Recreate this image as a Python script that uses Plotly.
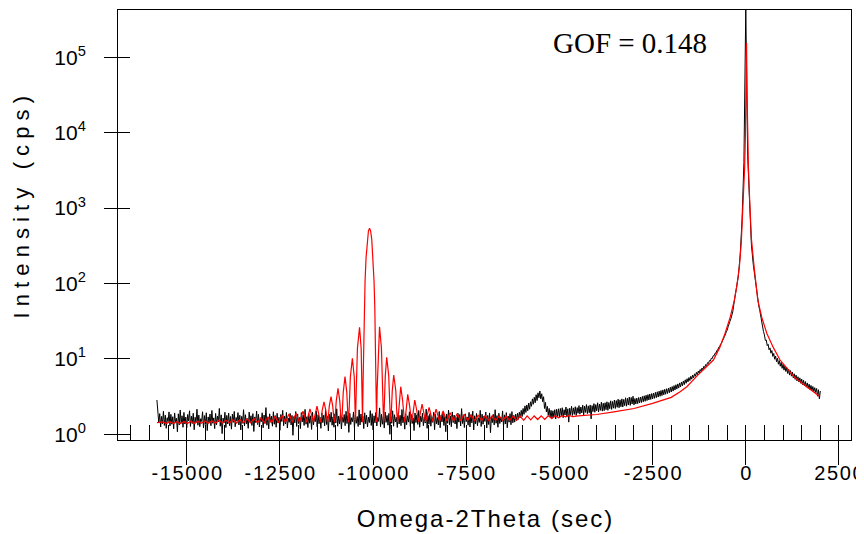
import plotly.graph_objects as go

# ---------------- measured scan (black) -----------------
# each segment: start angle (sec), step (sec), intensities (cps)
seg_a_start, seg_a_step = -15800, 25   # flat background
seg_a = [
    2.85, 1.95, 1.42, 1.88, 1.25, 1.73, 1.38, 2.02, 1.31, 1.79, 1.20, 1.66, 1.47, 1.98, 1.29, 1.84,
    1.36, 1.71, 1.18, 1.92, 1.44, 1.63, 1.08, 1.87, 1.33, 2.10, 1.41, 1.76, 1.24, 1.95, 1.37, 1.69,
    1.22, 1.83, 1.50, 2.05, 1.27, 1.74, 1.39, 1.90, 1.15, 1.68, 1.45, 2.15, 1.32, 1.80, 1.26, 1.61,
    1.48, 1.99, 1.21, 1.77, 1.35, 1.93, 1.12, 1.70, 1.43, 1.86, 1.30, 2.07, 1.40, 1.65, 1.19, 1.89,
    1.34, 1.75, 1.46, 2.20, 1.28, 1.81, 1.02, 1.64, 1.42, 1.96, 1.23, 1.78, 1.37, 1.91, 1.30, 1.72,
    1.17, 1.85, 1.44, 2.01, 1.26, 1.67, 1.49, 1.94, 1.33, 1.79, 1.14, 1.73, 1.40, 2.12, 1.29, 1.82,
    1.38, 1.62, 1.20, 1.97, 1.46, 1.76, 1.31, 1.88, 1.09, 1.70, 1.43, 2.03, 1.35, 1.84, 1.25, 1.66,
    1.47, 1.93, 1.22, 1.80, 1.39, 2.26, 1.32, 1.69, 1.18, 1.87, 1.45, 1.74, 1.28, 1.99, 1.36, 1.77,
    1.24, 1.90, 1.41, 1.68, 1.13, 1.83, 1.48, 2.08, 1.30, 1.75, 1.37, 1.95, 1.21, 1.64, 1.44, 1.89,
    1.33, 1.78, 0.97, 1.72, 1.42, 2.00, 1.27, 1.86, 1.39, 1.67, 1.19, 1.94, 1.46, 1.81, 1.31, 2.14,
    1.36, 1.71, 1.23, 1.88, 1.40, 1.76, 1.16, 1.97, 1.34, 1.65, 1.47, 2.04, 1.26, 1.82, 1.38, 1.69,
    1.20, 1.92, 1.43, 1.79, 1.29, 2.09, 1.35, 1.73, 1.11, 1.85, 1.45, 1.96, 1.32, 1.70, 1.24, 1.87,
    1.41, 2.18, 1.28, 1.75, 1.37, 1.91, 1.18, 1.68, 1.44, 1.83, 1.30, 2.02, 1.39, 1.77, 1.06, 1.90,
    1.35, 1.66, 1.47, 1.98, 1.22, 1.81, 1.40, 1.72, 1.27, 2.11, 1.33, 1.86, 1.45, 1.74, 1.19, 1.93,
    1.38, 1.80, 1.25, 1.69, 1.43, 2.06, 1.31, 1.88, 1.14, 1.76, 1.42, 1.95, 1.29, 1.67, 1.48, 2.24,
    1.26, 1.84, 1.36, 1.71, 1.21, 1.97, 1.44, 1.78, 1.32, 1.89, 1.00, 1.73, 1.40, 2.05, 1.28, 1.82,
    1.46, 1.68, 1.23, 1.94, 1.37, 1.79, 1.30, 2.13, 1.42, 1.70, 1.17, 1.87, 1.34, 1.76, 1.45, 1.99,
    1.27, 1.83, 1.39, 1.65, 1.12, 1.92, 1.43, 1.81, 1.35, 2.07, 1.24, 1.74, 1.47, 1.90, 1.30, 1.69,
    1.41, 2.16, 1.20, 1.77, 1.36, 1.88, 1.28, 1.71, 1.44, 1.96, 1.15, 1.84, 1.38, 1.67, 1.33, 2.01,
    1.22, 1.79, 1.46, 1.93, 1.31, 1.72, 1.08, 1.86, 1.40, 2.10, 1.34, 1.75, 1.26, 1.98, 1.43, 1.80,
    1.37, 1.68, 1.19, 1.91, 1.45, 1.83, 1.29, 2.19, 1.39, 1.73, 1.23, 1.87, 1.47, 1.70, 1.32, 1.95,
    1.25, 1.82, 1.42, 2.03, 1.14, 1.76, 1.38, 1.89, 1.30, 1.66, 1.44, 2.08, 1.27, 1.85, 1.36, 1.74,
    1.48, 1.97, 1.21, 1.78, 1.35, 1.92, 1.05, 1.71, 1.43, 1.84, 1.33, 2.12, 1.40, 1.77, 1.24, 1.90,
    1.39, 1.69, 1.46, 2.04, 1.28, 1.81, 1.37, 1.94, 1.22, 1.75, 1.45, 1.88, 1.34, 2.00, 1.42, 1.79,
]

seg_b_start, seg_b_step = -6200, 25    # layer bump and rising background
seg_b = [
    1.45, 1.85, 1.52, 1.90, 1.58, 1.96, 1.66, 2.08, 1.72, 2.20, 1.84, 2.38, 1.95, 2.45, 2.05, 2.60,
    2.15, 2.70, 2.35, 2.95, 2.50, 3.10, 2.62, 3.35, 2.80, 3.55, 3.05, 3.75, 2.95, 3.45, 2.70, 3.15,
    2.20, 2.65, 1.98, 2.35, 1.78, 2.20, 1.70, 2.08, 1.62, 2.05, 1.68, 2.12, 1.60, 2.15, 1.72, 2.18,
    1.70, 2.20, 1.76, 2.25, 1.66, 2.12, 1.80, 2.30, 1.74, 2.18, 1.45, 2.22, 1.82, 2.35, 1.78, 2.24,
    1.84, 2.32, 1.78, 2.26, 1.90, 2.40, 1.85, 2.30, 1.92, 2.44, 1.80, 2.36, 1.95, 2.48, 1.88, 2.38,
    1.93, 2.45, 1.60, 2.40, 2.00, 2.55, 1.96, 2.48, 2.05, 2.62, 1.98, 2.52, 2.08, 2.66, 2.03, 2.58,
    2.06, 2.62, 2.12, 2.70, 2.08, 2.64, 2.18, 2.78, 2.14, 2.72, 2.22, 2.85, 2.20, 2.80, 2.28, 2.92,
    2.25, 2.86, 2.32, 2.95, 2.30, 2.90, 2.40, 3.05, 2.36, 3.00, 2.45, 3.12, 2.42, 3.08, 2.52, 3.20,
]

seg_c_start, seg_c_step = -3000, 25    # left tail of substrate peak
seg_c = [
    2.45, 2.98, 2.52, 3.02, 2.55, 3.08, 2.60, 3.12, 2.64, 3.18, 2.70, 3.24, 2.74, 3.30, 2.80, 3.36,
    2.85, 3.42, 2.90, 3.47, 2.95, 3.52, 3.00, 3.60, 3.06, 3.66, 3.12, 3.74, 3.19, 3.81, 3.26, 3.88,
    3.33, 3.95, 3.40, 4.02, 3.48, 4.10, 3.56, 4.20, 3.64, 4.30, 3.74, 4.42, 3.86, 4.54, 3.98, 4.66,
    4.10, 4.80, 4.25, 4.94, 4.40, 5.10, 4.56, 5.28, 4.75, 5.46, 4.95, 5.66, 5.15, 5.88, 5.38, 6.10,
    5.62, 6.34, 5.88, 6.62, 6.18, 6.90, 6.48, 7.22, 6.82, 7.58, 7.20, 7.98, 7.65, 8.42, 8.15, 8.92,
    8.72, 9.50, 9.36, 10.2, 10.1, 11.0, 11.0, 11.9, 11.9, 13.0, 13.1, 14.3, 14.5, 15.8, 16.2, 17.6,
    18.2, 19.9, 20.8, 22.8, 24.0, 26.6, 28.3, 31.5, 34.0, 38.0, 42.0,
]

seg_d_start, seg_d_step = -300, 50     # substrate peak
seg_d = [62, 88, 125, 240, 700, 4000, 450000, 5000, 1000, 330, 180, 110, 72]

seg_e_start, seg_e_step = 350, 25      # right tail
seg_e = [
    50, 44, 36.5, 31.5, 25.5, 23.0, 20.8, 17.6, 17.8, 15.0, 15.6, 13.2, 14.0, 11.9, 12.9, 10.8,
    11.8, 9.9, 10.9, 9.2, 10.2, 8.5, 9.5, 8.0, 9.0, 7.5, 8.5, 7.1, 8.0, 6.8, 7.6, 6.4,
    7.3, 6.1, 7.0, 5.9, 6.7, 5.6, 6.35, 5.35, 6.1, 5.1, 5.8, 4.95, 5.6, 4.75, 5.4, 4.55,
    5.2, 4.4, 5.0, 4.22, 4.8, 4.08, 4.62, 3.92, 4.45, 3.80, 4.3, 3.68, 4.15, 3.58, 4.05, 3.2,
    3.9, 2.95, 3.75,
]

# ---------------- simulation (red) -----------------
red_x = [
    -15800, -15641, -15547, -15453, -15359, -15265, -15171, -15077, -14983, -14889,
    -14795, -14701, -14607, -14513, -14419, -14325, -14231, -14137, -14043, -13949,
    -13855, -13761, -13667, -13573, -13479, -13385, -13291, -13197, -13103, -13009,
    -12915, -12821, -12727, -12633, -12539, -12445, -12351, -12257, -12163, -12069,
    -11975, -11881, -11787, -11693, -11599, -11505, -11411,
    -11392, -11364, -11317, -11270, -11242, -11223,
    -11204, -11176, -11129, -11082, -11054, -11035,
    -11016, -10988, -10941, -10894, -10866, -10847,
    -10828, -10800, -10753, -10706, -10678, -10659,
    -10640, -10610, -10556, -10505, -10485, -10471,
    -10452, -10420, -10363, -10320, -10298, -10283,
    -10270, -10255, -10236, -10215, -10189, -10155, -10125, -10095,
    -10065, -10035, -10001, -9975, -9954, -9935, -9920, -9907,
    -9892, -9860, -9827, -9776, -9734, -9719,
    -9700, -9672, -9634, -9580, -9550, -9531,
    -9512, -9485, -9446, -9390, -9362, -9343,
    -9324, -9296, -9258, -9210, -9174, -9155,
    -9136, -9108, -9070, -9022, -8986, -8967,
    -8948, -8920, -8882, -8834, -8798, -8779,
    -8685, -8591, -8497, -8403, -8309, -8215, -8121, -8027, -7933, -7839,
    -7745, -7651, -7557, -7463, -7369, -7275, -7181, -7087, -6993, -6899,
    -6805, -6711, -6617, -6523, -6429, -6335, -6241, -6147, -6053, -5959,
    -5865, -5771, -5677, -5583, -5489, -5395, -5301, -5207, -5113, -5019,
    -4925, -4831, -4737, -4643,
    -4500, -4000, -3500, -3000, -2500, -2000, -1762, -1582, -1300, -1046,
    -869, -700, -555, -420, -306, -240, -172, -120, -64, -30,
    -10, 5, 20, 35, 50, 70, 104, 150, 223, 322,
    430, 563, 740, 920, 1100, 1300, 1500, 1700, 1850, 1975,
]
red_y = [
    1.43, 1.46, 1.39, 1.47, 1.39, 1.47, 1.39, 1.48, 1.39, 1.49,
    1.39, 1.49, 1.40, 1.50, 1.40, 1.51, 1.40, 1.53, 1.41, 1.54,
    1.41, 1.56, 1.41, 1.57, 1.42, 1.60, 1.42, 1.62, 1.42, 1.65,
    1.43, 1.69, 1.43, 1.73, 1.43, 1.79, 1.44, 1.86, 1.44, 1.91,
    1.44, 2.02, 1.45, 2.17, 1.45, 2.37, 1.45,
    1.57, 2.10, 2.70, 2.10, 1.57, 1.45,
    1.62, 2.35, 3.16, 2.35, 1.62, 1.45,
    1.70, 2.78, 4.07, 2.78, 1.70, 1.45,
    1.87, 3.62, 5.82, 3.62, 1.87, 1.45,
    2.28, 5.7, 10.2, 5.7, 2.28, 1.45,
    3.8, 13.8, 26.3, 13.8, 3.8, 1.45,
    4.45, 17, 50, 109, 218, 380, 496, 540,
    496, 380, 218, 109, 50, 17, 4.45, 1.46,
    3.8, 14.0, 26.7, 14.0, 3.8, 1.46,
    2.3, 6.0, 10.5, 6.0, 2.3, 1.46,
    1.9, 3.78, 6.11, 3.78, 1.9, 1.46,
    1.72, 2.87, 4.28, 2.87, 1.72, 1.46,
    1.63, 2.42, 3.39, 2.42, 1.63, 1.46,
    1.58, 2.15, 2.85, 2.15, 1.58, 1.46,
    2.52, 1.46, 2.28, 1.48, 2.15, 1.49, 2.04, 1.50, 1.93, 1.50,
    1.875, 1.51, 1.84, 1.52, 1.81, 1.52, 1.79, 1.52, 1.77, 1.52,
    1.76, 1.52, 1.75, 1.53, 1.745, 1.53, 1.745, 1.53, 1.745, 1.53,
    1.75, 1.55, 1.75, 1.57, 1.755, 1.58, 1.76, 1.62, 1.76, 1.66,
    1.765, 1.70, 1.78, 1.72,
    1.75, 1.83, 2.0, 2.2, 2.57, 3.09, 3.67, 4.28, 6.0, 7.9,
    9.66, 14.1, 21.9, 35.5, 60.3, 93, 166, 355, 1288, 3548,
    9333, 31600, 155000, 31600, 9333, 3548, 1288, 398, 166, 60.3,
    35.5, 21.9, 14.1, 9.66, 7.6, 5.75, 4.79, 3.98, 3.55, 3.2,
]

# ---------------- axes text -----------------
x_tick_vals = [-15000, -12500, -10000, -7500, -5000, -2500, 0, 2500]
y_tick_vals = [1, 10, 100, 1000, 10000, 100000]
y_tick_exp = ["0", "1", "2", "3", "4", "5"]
x_title = "Omega-2Theta (sec)"
y_title = "Intensity (cps)"
gof_text = "GOF = 0.148"

HAIR = "\u200a"


def spaced(s, sep):
    return sep.join(s)


def seg_x(start, step, vals):
    return [start + i * step for i in range(len(vals))]


black_x = (seg_x(seg_a_start, seg_a_step, seg_a) + seg_x(seg_b_start, seg_b_step, seg_b)
           + seg_x(seg_c_start, seg_c_step, seg_c) + seg_x(seg_d_start, seg_d_step, seg_d)
           + seg_x(seg_e_start, seg_e_step, seg_e))
black_y = seg_a + seg_b + seg_c + seg_d + seg_e

SANS = "Liberation Sans, Arial, sans-serif"
SERIF = "Liberation Serif, Times New Roman, serif"
X_RANGE = [-16844, 2823]
Y_RANGE = [-0.0756, 5.627]

fig = go.Figure()
fig.add_trace(go.Scatter(x=black_x, y=black_y, mode="lines", xaxis="x", yaxis="y",
                         line=dict(color="#000000", width=1), showlegend=False))
fig.add_trace(go.Scatter(x=red_x, y=red_y, mode="lines", xaxis="x2", yaxis="y2",
                         line=dict(color="#ff0000", width=1.2), showlegend=False))

fig.add_annotation(text=gof_text, xref="paper", yref="paper", x=0.6985, y=0.923,
                   xanchor="center", yanchor="middle", showarrow=False,
                   font=dict(family=SERIF, size=29, color="black"))

# y-axis title (rotated), placed left of the tick labels
fig.add_annotation(text=spaced(y_title, " "), xref="paper", yref="paper",
                   x=-0.131, y=0.543, xanchor="center", yanchor="middle",
                   textangle=-90, showarrow=False,
                   font=dict(family=SANS, size=22, color="black"))

# the page body adds an 8 px offset; the figure is sized so the plot frame
# lands at x 118..851, y 10..440 of the 864x534 window
fig.update_layout(
    width=856, height=526,
    margin=dict(l=110, r=13, t=2, b=94, autoexpand=False),
    paper_bgcolor="white", plot_bgcolor="white",
    showlegend=False,
    xaxis=dict(
        range=X_RANGE, showgrid=False, zeroline=False, automargin=False,
        showline=True, mirror=True, linecolor="black", linewidth=1,
        ticks="outside", ticklen=24, tickcolor="black", tickwidth=1,
        tickvals=x_tick_vals,
        ticktext=[spaced(str(v), HAIR) for v in x_tick_vals],
        tickfont=dict(family=SANS, size=20, color="black"),
        ticklabelstandoff=-9,
        title=dict(text=spaced(x_title, HAIR), font=dict(family=SANS, size=24, color="black"), standoff=27),
    ),
    xaxis2=dict(
        range=X_RANGE, overlaying="x", anchor="y2", side="bottom", automargin=False,
        showgrid=False, zeroline=False, showline=False, showticklabels=False,
        ticks="inside", ticklen=15, tickcolor="black", tickwidth=1,
        tick0=0, dtick=500,
    ),
    yaxis=dict(
        type="log", range=Y_RANGE, showgrid=False, zeroline=False, automargin=False,
        showline=True, mirror=True, linecolor="black", linewidth=1,
        ticks="outside", ticklen=13, tickcolor="black", tickwidth=1,
        tickvals=y_tick_vals,
        ticktext=["10<sup>%s</sup>" % e for e in y_tick_exp],
        tickfont=dict(family=SANS, size=21, color="black"),
        ticklabelstandoff=14,
    ),
    yaxis2=dict(
        type="log", range=Y_RANGE, overlaying="y", anchor="x2", side="left", automargin=False,
        showgrid=False, zeroline=False, showline=False, showticklabels=False,
        ticks="inside", ticklen=12, tickcolor="black", tickwidth=1,
        tickvals=y_tick_vals,
    ),
)

fig.write_html("out.html")
